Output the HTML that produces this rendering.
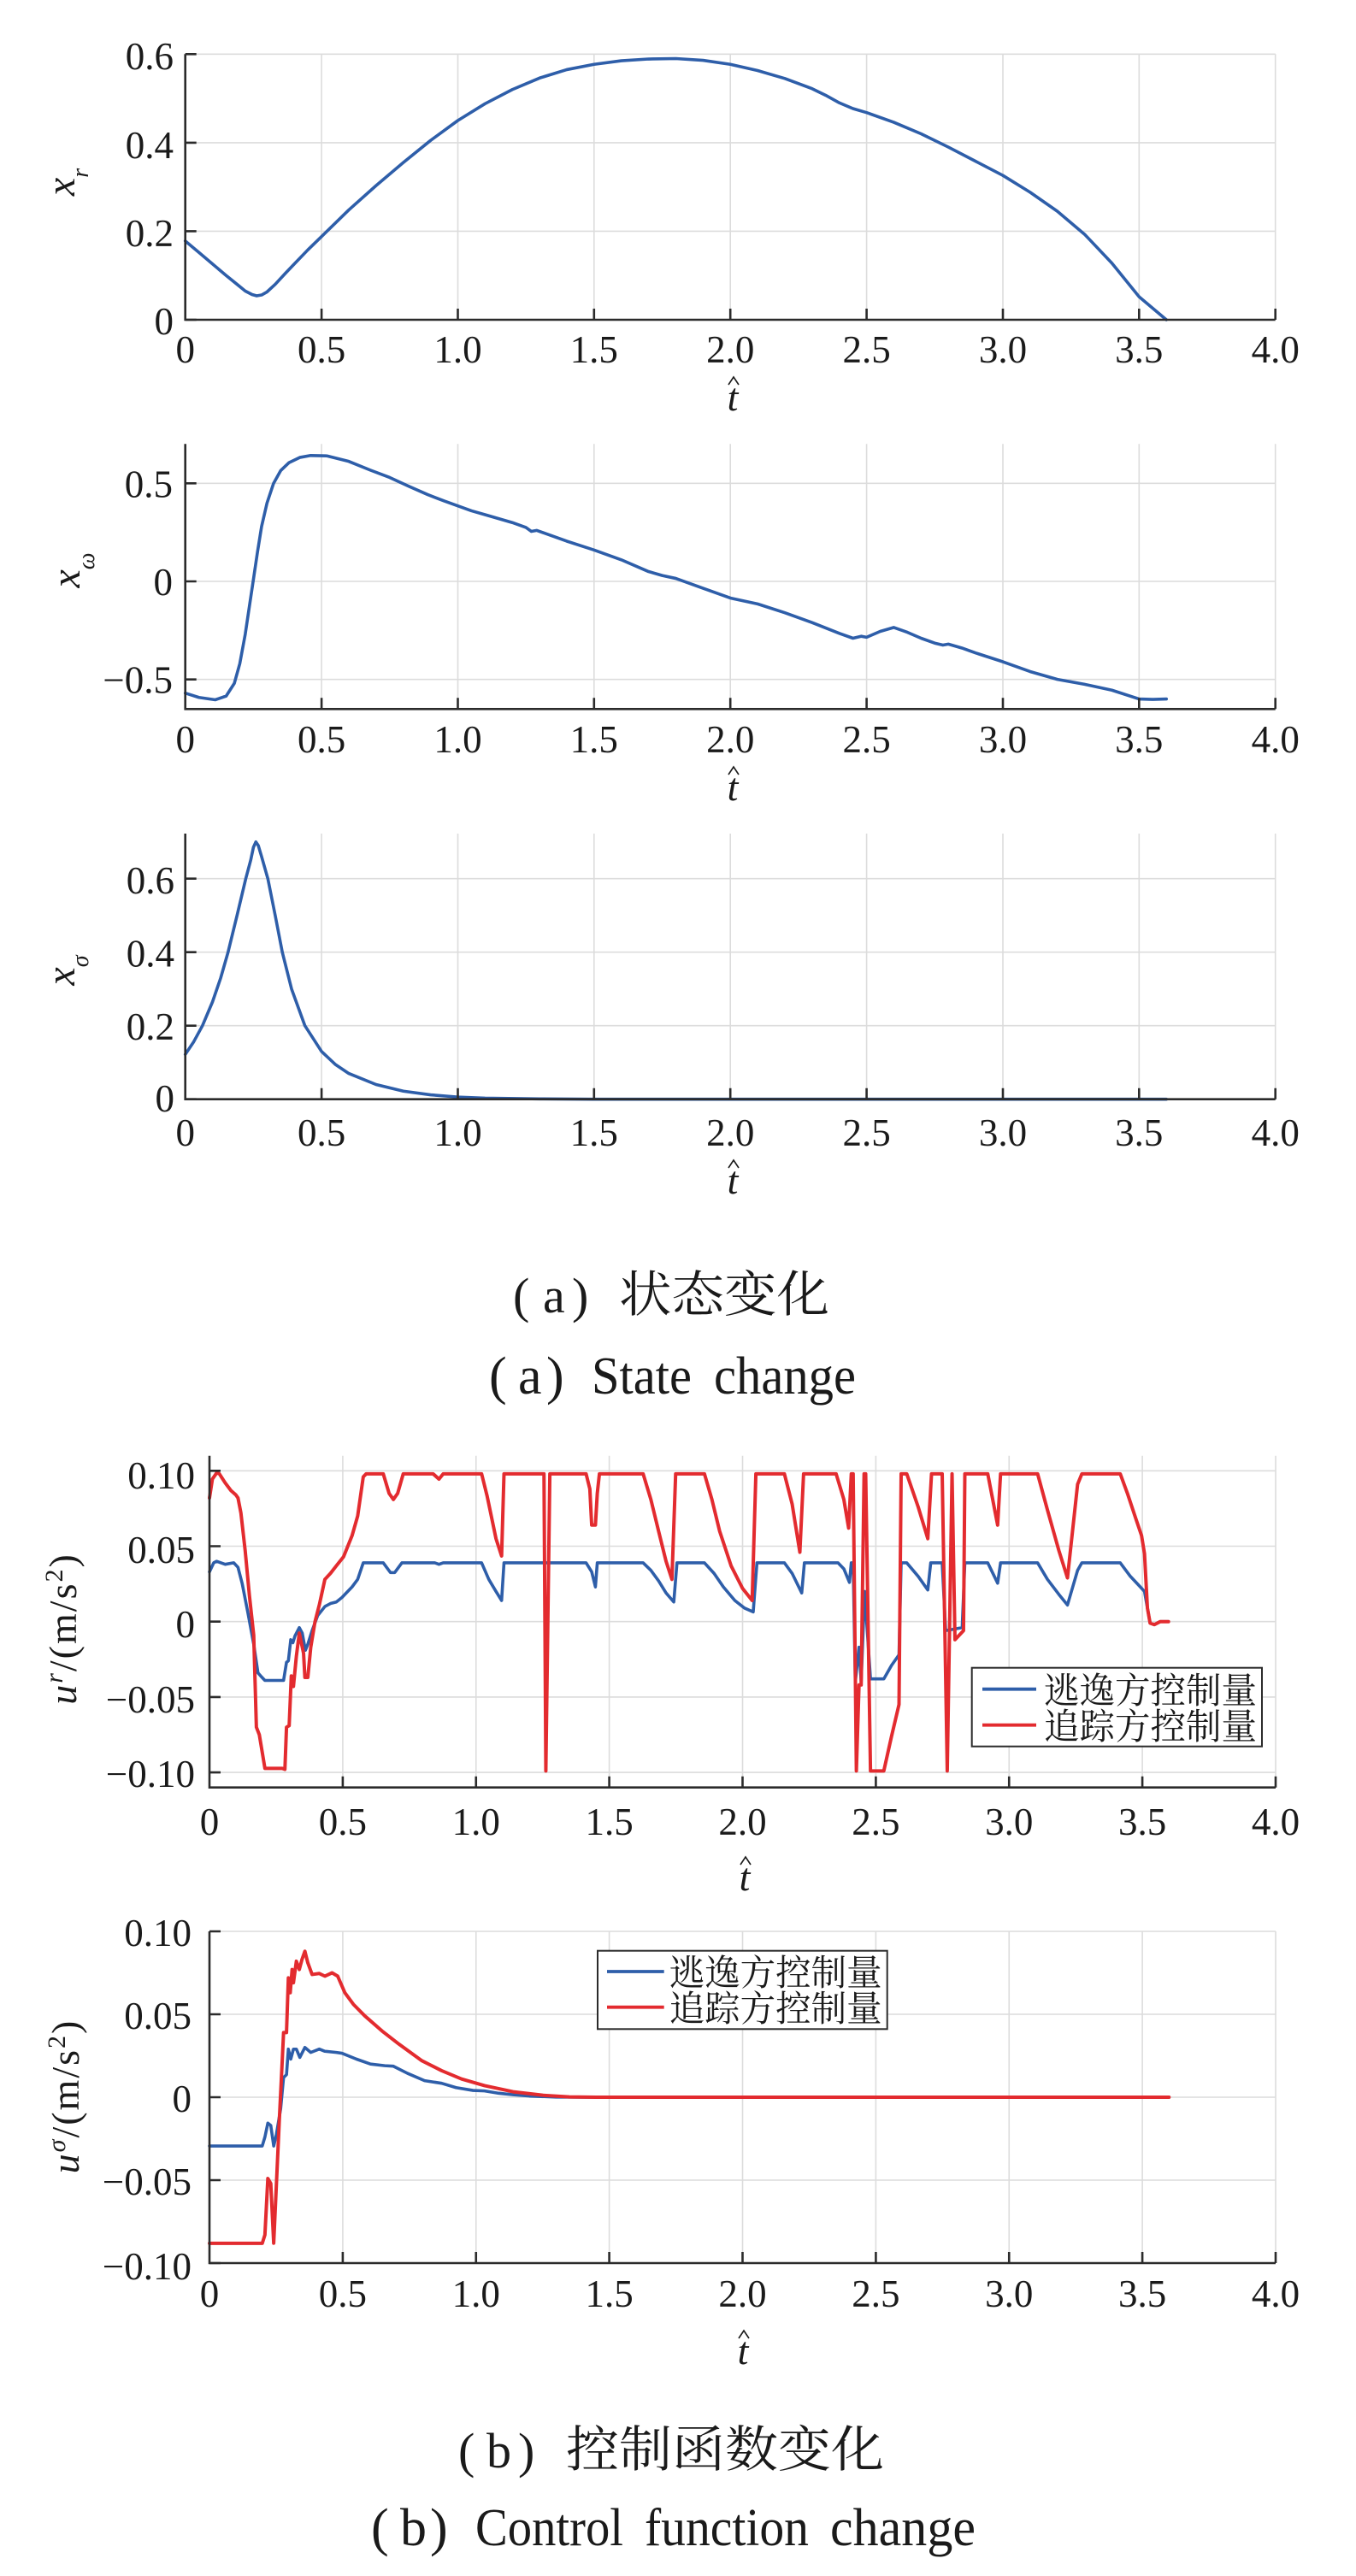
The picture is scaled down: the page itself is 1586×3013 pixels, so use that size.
<!DOCTYPE html>
<html>
<head>
<meta charset="utf-8">
<style>
html,body{margin:0;padding:0;background:#fff;}
svg{display:block;}
.tk{font-family:"Liberation Serif",serif;font-size:45px;fill:#1a1a1a;}
.grid{stroke:#dcdcdc;stroke-width:1.6;fill:none;}
.ax{stroke:#2b2b2b;stroke-width:2.6;fill:none;}
.blue{stroke:#2e5ea9;fill:none;stroke-width:3.6;stroke-linejoin:round;stroke-linecap:round;}
.red{stroke:#e32b2f;fill:none;stroke-width:4;stroke-linejoin:round;stroke-linecap:round;}
.lab{font-family:"Liberation Serif",serif;fill:#1a1a1a;}
.cjk{font-family:"Liberation Serif","Noto Serif CJK SC",serif;fill:#1a1a1a;}
</style>
</head>
<body>
<svg width="1586" height="3013" viewBox="0 0 1586 3013" xmlns="http://www.w3.org/2000/svg">
<rect x="0" y="0" width="1586" height="3013" fill="#fff"/>

<!-- ================= PLOT 1 : x_r ================= -->
<g class="grid">
<path d="M376.1,63.3V374M535.5,63.3V374M694.8,63.3V374M854.2,63.3V374M1013.6,63.3V374M1173,63.3V374M1332.3,63.3V374M1491.7,63.3V374"/>
<path d="M216.7,63.3H1491.7M216.7,166.9H1491.7M216.7,270.4H1491.7"/>
</g>
<g transform="matrix(318.75 0 0 -517.8 216.7 374)">
<polyline class="blue" vector-effect="non-scaling-stroke" points="0,0.178 0.05,0.152 0.1,0.126 0.15,0.1 0.19,0.08 0.22,0.065 0.245,0.057 0.262,0.054 0.28,0.056 0.3,0.063 0.33,0.08 0.366,0.104 0.4,0.126 0.45,0.158 0.5,0.188 0.6,0.248 0.7,0.303 0.8,0.355 0.9,0.405 1.0,0.45 1.1,0.488 1.2,0.52 1.3,0.546 1.4,0.565 1.5,0.577 1.6,0.585 1.7,0.589 1.8,0.59 1.9,0.586 2.0,0.577 2.1,0.563 2.2,0.545 2.3,0.522 2.35,0.507 2.4,0.49 2.45,0.477 2.5,0.468 2.6,0.446 2.7,0.42 2.8,0.39 2.9,0.358 3.0,0.326 3.1,0.288 3.2,0.245 3.3,0.193 3.4,0.128 3.5,0.052 3.6,0"/>
</g>
<path class="ax" d="M216.7,63.3V374H1491.7"/>
<path class="ax" d="M216.7,63.3h13M216.7,166.9h13M216.7,270.4h13M216.7,374h13M376.1,374v-13M535.5,374v-13M694.8,374v-13M854.2,374v-13M1013.6,374v-13M1173,374v-13M1332.3,374v-13M1491.7,374v-13"/>
<g class="tk" text-anchor="end">
<text x="203" y="81">0.6</text><text x="203" y="185">0.4</text><text x="203" y="288">0.2</text><text x="203" y="391">0</text>
</g>
<g class="tk" text-anchor="middle">
<text x="216.7" y="424">0</text><text x="376.1" y="424">0.5</text><text x="535.5" y="424">1.0</text><text x="694.8" y="424">1.5</text><text x="854.2" y="424">2.0</text><text x="1013.6" y="424">2.5</text><text x="1173" y="424">3.0</text><text x="1332.3" y="424">3.5</text><text x="1491.7" y="424">4.0</text>
</g>
<text class="lab" x="857" y="480" font-size="46" font-style="italic" text-anchor="middle">t</text>
<polyline points="852,450 858,441 864,450" fill="none" stroke="#1a1a1a" stroke-width="1.6"/>
<text class="lab" transform="translate(87,213) rotate(-90)" text-anchor="middle" font-size="48" font-style="italic">x<tspan font-size="28" dy="16">r</tspan></text>

<!-- ================= PLOT 2 : x_omega ================= -->
<g class="grid">
<path d="M376.1,519.3V829.3M535.5,519.3V829.3M694.8,519.3V829.3M854.2,519.3V829.3M1013.6,519.3V829.3M1173,519.3V829.3M1332.3,519.3V829.3M1491.7,519.3V829.3"/>
<path d="M216.7,565.35H1491.7M216.7,680H1491.7M216.7,794.65H1491.7"/>
</g>
<g transform="matrix(318.75 0 0 -229.3 216.7 680)">
<polyline class="blue" vector-effect="non-scaling-stroke" points="0,-0.57 0.05,-0.592 0.11,-0.604 0.15,-0.585 0.18,-0.52 0.2,-0.42 0.22,-0.27 0.235,-0.13 0.249,0 0.265,0.15 0.28,0.28 0.3,0.4 0.324,0.5 0.35,0.565 0.38,0.605 0.42,0.632 0.46,0.642 0.52,0.64 0.6,0.612 0.68,0.567 0.75,0.53 0.82,0.485 0.889,0.443 0.95,0.41 1.0,0.385 1.05,0.36 1.1,0.34 1.2,0.3 1.25,0.275 1.27,0.255 1.29,0.26 1.32,0.245 1.4,0.205 1.5,0.16 1.6,0.11 1.7,0.05 1.75,0.03 1.8,0.015 1.9,-0.035 2.0,-0.085 2.1,-0.115 2.2,-0.16 2.3,-0.21 2.4,-0.265 2.45,-0.29 2.48,-0.28 2.5,-0.285 2.55,-0.255 2.6,-0.235 2.65,-0.26 2.7,-0.29 2.75,-0.315 2.78,-0.325 2.8,-0.32 2.85,-0.34 2.9,-0.365 3.0,-0.41 3.1,-0.46 3.2,-0.5 3.3,-0.525 3.4,-0.555 3.5,-0.6 3.55,-0.602 3.6,-0.6"/>
</g>
<path class="ax" d="M216.7,519.3V829.3H1491.7"/>
<path class="ax" d="M216.7,565.35h13M216.7,680h13M216.7,794.65h13M376.1,829.3v-13M535.5,829.3v-13M694.8,829.3v-13M854.2,829.3v-13M1013.6,829.3v-13M1173,829.3v-13M1332.3,829.3v-13M1491.7,829.3v-13"/>
<g class="tk" text-anchor="end">
<text x="202" y="581.5">0.5</text><text x="202" y="696">0</text><text x="202" y="810.7">−0.5</text>
</g>
<g class="tk" text-anchor="middle">
<text x="216.7" y="880">0</text><text x="376.1" y="880">0.5</text><text x="535.5" y="880">1.0</text><text x="694.8" y="880">1.5</text><text x="854.2" y="880">2.0</text><text x="1013.6" y="880">2.5</text><text x="1173" y="880">3.0</text><text x="1332.3" y="880">3.5</text><text x="1491.7" y="880">4.0</text>
</g>
<text class="lab" x="857" y="936" font-size="46" font-style="italic" text-anchor="middle">t</text>
<polyline points="852,906 858,897 864,906" fill="none" stroke="#1a1a1a" stroke-width="1.6"/>
<text class="lab" transform="translate(93,667) rotate(-90)" text-anchor="middle" font-size="48" font-style="italic">x<tspan font-size="28" dy="17">ω</tspan></text>

<!-- ================= PLOT 3 : x_sigma ================= -->
<g class="grid">
<path d="M376.1,975V1285.7M535.5,975V1285.7M694.8,975V1285.7M854.2,975V1285.7M1013.6,975V1285.7M1173,975V1285.7M1332.3,975V1285.7M1491.7,975V1285.7"/>
<path d="M216.7,1027.7H1491.7M216.7,1113.7H1491.7M216.7,1199.7H1491.7"/>
</g>
<g transform="matrix(318.75 0 0 -430 216.7 1285.7)">
<polyline class="blue" vector-effect="non-scaling-stroke" points="0,0.122 0.03,0.155 0.063,0.2 0.1,0.265 0.13,0.33 0.157,0.4 0.19,0.5 0.222,0.6 0.24,0.65 0.25,0.685 0.259,0.7 0.268,0.69 0.28,0.66 0.303,0.6 0.33,0.5 0.356,0.4 0.39,0.3 0.439,0.2 0.5,0.13 0.55,0.095 0.6,0.07 0.7,0.04 0.8,0.022 0.9,0.012 1.0,0.006 1.1,0.003 1.3,0.001 1.5,0 3.6,0"/>
</g>
<path class="ax" d="M216.7,975V1285.7H1491.7"/>
<path class="ax" d="M216.7,1027.7h13M216.7,1113.7h13M216.7,1199.7h13M216.7,1285.7h13M376.1,1285.7v-13M535.5,1285.7v-13M694.8,1285.7v-13M854.2,1285.7v-13M1013.6,1285.7v-13M1173,1285.7v-13M1332.3,1285.7v-13M1491.7,1285.7v-13"/>
<g class="tk" text-anchor="end">
<text x="204" y="1045">0.6</text><text x="204" y="1130.5">0.4</text><text x="204" y="1216">0.2</text><text x="204" y="1300">0</text>
</g>
<g class="tk" text-anchor="middle">
<text x="216.7" y="1340">0</text><text x="376.1" y="1340">0.5</text><text x="535.5" y="1340">1.0</text><text x="694.8" y="1340">1.5</text><text x="854.2" y="1340">2.0</text><text x="1013.6" y="1340">2.5</text><text x="1173" y="1340">3.0</text><text x="1332.3" y="1340">3.5</text><text x="1491.7" y="1340">4.0</text>
</g>
<text class="lab" x="857" y="1396" font-size="46" font-style="italic" text-anchor="middle">t</text>
<polyline points="852,1366 858,1357 864,1366" fill="none" stroke="#1a1a1a" stroke-width="1.6"/>
<text class="lab" transform="translate(87,1135) rotate(-90)" text-anchor="middle" font-size="48" font-style="italic">x<tspan font-size="28" dy="16">σ</tspan></text>

<!-- ================= CAPTION A ================= -->
<g class="lab" font-size="58">
<text x="600" y="1535">(</text><text x="635" y="1535">a</text><text x="669" y="1535">)</text>
</g>
<text class="cjk" x="724" y="1534" font-size="58" textLength="246" lengthAdjust="spacingAndGlyphs">状态变化</text>
<g class="lab" font-size="62">
<text x="572" y="1630">(</text><text x="606" y="1630">a</text><text x="639" y="1630">)</text>
<text x="692" y="1630" textLength="117" lengthAdjust="spacingAndGlyphs">State</text>
<text x="835" y="1630" textLength="166" lengthAdjust="spacingAndGlyphs">change</text>
</g>

<!-- ================= PLOT 4 : u^r ================= -->
<g class="grid">
<path d="M400.9,1702.7V2090.7M556.75,1702.7V2090.7M712.6,1702.7V2090.7M868.5,1702.7V2090.7M1024.4,1702.7V2090.7M1180.25,1702.7V2090.7M1336.1,1702.7V2090.7M1492,1702.7V2090.7"/>
<path d="M245,1720.3H1492M245,1808.5H1492M245,1896.7H1492M245,1984.9H1492M245,2073.1H1492"/>
</g>
<g transform="matrix(311.75 0 0 -1764 245 1896.7)">
<polyline class="blue" vector-effect="non-scaling-stroke" points="0,0.033 0.016,0.039 0.027,0.04 0.059,0.038 0.091,0.039 0.107,0.036 0.123,0.025 0.144,0.006 0.166,-0.015 0.182,-0.034 0.192,-0.036 0.208,-0.039 0.278,-0.039 0.289,-0.027 0.296,-0.026 0.305,-0.012 0.313,-0.014 0.321,-0.0094 0.337,-0.004 0.348,-0.0076 0.36,-0.019 0.369,-0.015 0.385,-0.006 0.406,0.004 0.433,0.01 0.454,0.012 0.476,0.013 0.497,0.016 0.535,0.023 0.556,0.028 0.577,0.039 0.652,0.039 0.679,0.0325 0.695,0.0325 0.722,0.039 0.845,0.039 0.861,0.038 0.877,0.039 1.021,0.039 1.048,0.028 1.075,0.02 1.096,0.014 1.105,0.039 1.413,0.039 1.434,0.033 1.448,0.023 1.455,0.039 1.627,0.039 1.656,0.034 1.685,0.027 1.713,0.019 1.742,0.013 1.754,0.039 1.857,0.039 1.893,0.032 1.928,0.023 1.971,0.014 2.007,0.009 2.04,0.0064 2.054,0.039 2.157,0.039 2.186,0.032 2.222,0.019 2.232,0.039 2.358,0.039 2.38,0.035 2.401,0.026 2.408,0.039 2.415,0.039 2.423,-0.04 2.437,-0.017 2.445,-0.04 2.458,0.02 2.48,-0.038 2.53,-0.038 2.559,-0.029 2.587,-0.022 2.595,0.039 2.616,0.039 2.659,0.03 2.695,0.021 2.706,0.039 2.749,0.039 2.762,-0.006 2.824,-0.004 2.834,0.039 2.92,0.039 2.957,0.0255 2.968,0.039 3.107,0.039 3.144,0.028 3.187,0.018 3.219,0.011 3.257,0.034 3.273,0.039 3.417,0.039 3.455,0.03 3.487,0.024 3.508,0.02 3.519,0.009 3.529,-0.001 3.545,-0.002 3.567,0 3.598,0"/>
<polyline class="red" vector-effect="non-scaling-stroke" points="0,0.082 0.011,0.0945 0.027,0.0986 0.037,0.098 0.059,0.092 0.08,0.087 0.099,0.084 0.107,0.082 0.118,0.072 0.134,0.047 0.15,0.017 0.166,-0.009 0.176,-0.07 0.187,-0.075 0.208,-0.0973 0.273,-0.0973 0.283,-0.098 0.289,-0.07 0.299,-0.069 0.307,-0.036 0.315,-0.043 0.326,-0.023 0.337,-0.0076 0.353,-0.021 0.358,-0.037 0.369,-0.037 0.38,-0.017 0.396,0 0.412,0.011 0.433,0.028 0.454,0.032 0.476,0.037 0.503,0.043 0.535,0.057 0.556,0.07 0.577,0.096 0.588,0.098 0.652,0.098 0.674,0.085 0.69,0.081 0.706,0.085 0.727,0.098 0.839,0.098 0.861,0.0945 0.877,0.098 1.021,0.098 1.042,0.083 1.075,0.055 1.096,0.0435 1.105,0.098 1.255,0.098 1.262,-0.099 1.277,0.098 1.413,0.098 1.427,0.088 1.434,0.064 1.448,0.064 1.455,0.085 1.463,0.098 1.627,0.098 1.656,0.081 1.685,0.06 1.713,0.04 1.735,0.028 1.749,0.098 1.857,0.098 1.885,0.081 1.914,0.06 1.957,0.037 2.0,0.022 2.036,0.014 2.05,0.098 2.157,0.098 2.186,0.078 2.215,0.046 2.229,0.098 2.351,0.098 2.38,0.081 2.398,0.062 2.408,0.098 2.415,0.098 2.427,-0.099 2.437,-0.042 2.445,-0.042 2.456,0.098 2.462,0.098 2.48,-0.099 2.53,-0.099 2.559,-0.076 2.587,-0.055 2.595,0.098 2.616,0.098 2.659,0.076 2.695,0.055 2.709,0.098 2.749,0.098 2.768,-0.099 2.786,0.098 2.797,-0.012 2.829,-0.006 2.834,0.098 2.92,0.098 2.957,0.064 2.968,0.098 3.107,0.098 3.144,0.074 3.187,0.047 3.219,0.029 3.257,0.091 3.273,0.098 3.417,0.098 3.444,0.085 3.476,0.068 3.497,0.057 3.508,0.045 3.519,0.009 3.529,-0.001 3.545,-0.002 3.567,0 3.598,0"/>
</g>
<path class="ax" d="M245,1702.7V2090.7H1492"/>
<path class="ax" d="M245,1720.3h13M245,1808.5h13M245,1896.7h13M245,1984.9h13M245,2073.1h13M400.9,2090.7v-13M556.75,2090.7v-13M712.6,2090.7v-13M868.5,2090.7v-13M1024.4,2090.7v-13M1180.25,2090.7v-13M1336.1,2090.7v-13M1492,2090.7v-13"/>
<g class="tk" text-anchor="end">
<text x="228" y="1741">0.10</text><text x="228" y="1828">0.05</text><text x="228" y="1915">0</text><text x="228" y="2003">−0.05</text><text x="228" y="2090">−0.10</text>
</g>
<g class="tk" text-anchor="middle">
<text x="245" y="2146">0</text><text x="400.9" y="2146">0.5</text><text x="556.75" y="2146">1.0</text><text x="712.6" y="2146">1.5</text><text x="868.5" y="2146">2.0</text><text x="1024.4" y="2146">2.5</text><text x="1180.25" y="2146">3.0</text><text x="1336.1" y="2146">3.5</text><text x="1492" y="2146">4.0</text>
</g>
<text class="lab" x="871" y="2211" font-size="46" font-style="italic" text-anchor="middle">t</text>
<polyline points="866,2181 872,2172 878,2181" fill="none" stroke="#1a1a1a" stroke-width="1.6"/>
<text class="lab" transform="translate(89,1905) rotate(-90)" text-anchor="middle" font-size="46" letter-spacing="2"><tspan font-style="italic">u</tspan><tspan font-style="italic" font-size="30" dy="-16">r</tspan><tspan dy="16">/(m/s</tspan><tspan font-size="30" dy="-16">2</tspan><tspan dy="16">)</tspan></text>
<!-- legend 4 -->
<rect x="1136.7" y="1950.7" width="339.3" height="92" fill="#fff" stroke="#2b2b2b" stroke-width="2"/>
<path d="M1149,1975.7H1212" stroke="#2e5ea9" stroke-width="3.8"/>
<path d="M1149,2017.7H1212" stroke="#e32b2f" stroke-width="3.8"/>
<text class="cjk" x="1221" y="1992" font-size="42" textLength="249" lengthAdjust="spacingAndGlyphs">逃逸方控制量</text>
<text class="cjk" x="1221" y="2034" font-size="42" textLength="249" lengthAdjust="spacingAndGlyphs">追踪方控制量</text>

<!-- ================= PLOT 5 : u^sigma ================= -->
<g class="grid">
<path d="M400.9,2259V2647M556.75,2259V2647M712.6,2259V2647M868.5,2259V2647M1024.4,2259V2647M1180.25,2259V2647M1336.1,2259V2647M1492,2259V2647"/>
<path d="M245,2259H1492M245,2356H1492M245,2453H1492M245,2550H1492"/>
</g>
<g transform="matrix(311.75 0 0 -1940 245 2453)">
<polyline class="blue" vector-effect="non-scaling-stroke" points="0,-0.0294 0.198,-0.0294 0.208,-0.024 0.219,-0.0156 0.23,-0.017 0.241,-0.0294 0.251,-0.0225 0.267,-0.007 0.278,0.0119 0.289,0.0136 0.296,0.029 0.305,0.023 0.315,0.029 0.326,0.029 0.339,0.024 0.358,0.03 0.38,0.027 0.412,0.029 0.433,0.0277 0.476,0.027 0.497,0.0265 0.551,0.023 0.604,0.02 0.658,0.019 0.69,0.0187 0.743,0.0144 0.807,0.01 0.871,0.0084 0.925,0.0058 0.989,0.0041 1.032,0.0038 1.085,0.0024 1.139,0.0015 1.2,0.0007 1.3,0.0001 1.4,0 3.6,0"/>
<polyline class="red" vector-effect="non-scaling-stroke" points="0,-0.0881 0.198,-0.0881 0.208,-0.083 0.219,-0.049 0.23,-0.052 0.241,-0.088 0.251,-0.053 0.262,-0.014 0.273,0.022 0.278,0.039 0.289,0.039 0.296,0.072 0.303,0.063 0.31,0.077 0.315,0.069 0.326,0.082 0.337,0.077 0.347,0.083 0.358,0.088 0.369,0.081 0.385,0.074 0.412,0.0746 0.433,0.073 0.46,0.075 0.481,0.073 0.508,0.063 0.54,0.056 0.583,0.049 0.647,0.04 0.711,0.032 0.797,0.022 0.871,0.016 0.946,0.011 1.032,0.007 1.139,0.0033 1.25,0.0012 1.35,0.0002 1.45,0 3.6,0"/>
</g>
<path class="ax" d="M245,2259V2647H1492"/>
<path class="ax" d="M245,2259h13M245,2356h13M245,2453h13M245,2550h13M245,2647h13M400.9,2647v-13M556.75,2647v-13M712.6,2647v-13M868.5,2647v-13M1024.4,2647v-13M1180.25,2647v-13M1336.1,2647v-13M1492,2647v-13"/>
<g class="tk" text-anchor="end">
<text x="224" y="2276">0.10</text><text x="224" y="2373">0.05</text><text x="224" y="2470">0</text><text x="224" y="2567">−0.05</text><text x="224" y="2666">−0.10</text>
</g>
<g class="tk" text-anchor="middle">
<text x="245" y="2698">0</text><text x="400.9" y="2698">0.5</text><text x="556.75" y="2698">1.0</text><text x="712.6" y="2698">1.5</text><text x="868.5" y="2698">2.0</text><text x="1024.4" y="2698">2.5</text><text x="1180.25" y="2698">3.0</text><text x="1336.1" y="2698">3.5</text><text x="1492" y="2698">4.0</text>
</g>
<text class="lab" x="869" y="2765" font-size="46" font-style="italic" text-anchor="middle">t</text>
<polyline points="864,2735 870,2726 876,2735" fill="none" stroke="#1a1a1a" stroke-width="1.6"/>
<text class="lab" transform="translate(92,2452) rotate(-90)" text-anchor="middle" font-size="46" letter-spacing="2"><tspan font-style="italic">u</tspan><tspan font-style="italic" font-size="30" dy="-16">σ</tspan><tspan dy="16">/(m/s</tspan><tspan font-size="30" dy="-16">2</tspan><tspan dy="16">)</tspan></text>
<!-- legend 5 -->
<rect x="699" y="2281.7" width="338.7" height="91.6" fill="#fff" stroke="#2b2b2b" stroke-width="2"/>
<path d="M710,2306H776.7" stroke="#2e5ea9" stroke-width="3.8"/>
<path d="M710,2347.7H776.7" stroke="#e32b2f" stroke-width="3.8"/>
<text class="cjk" x="782.7" y="2322" font-size="42" textLength="249" lengthAdjust="spacingAndGlyphs">逃逸方控制量</text>
<text class="cjk" x="782.7" y="2364" font-size="42" textLength="249" lengthAdjust="spacingAndGlyphs">追踪方控制量</text>

<!-- ================= CAPTION B ================= -->
<g class="lab" font-size="58">
<text x="536" y="2886">(</text><text x="569" y="2886">b</text><text x="606" y="2886">)</text>
</g>
<text class="cjk" x="662" y="2885" font-size="58" textLength="372" lengthAdjust="spacingAndGlyphs">控制函数变化</text>
<g class="lab" font-size="62">
<text x="434" y="2977">(</text><text x="468" y="2977">b</text><text x="503" y="2977">)</text>
<text x="556" y="2977" textLength="173" lengthAdjust="spacingAndGlyphs">Control</text>
<text x="754" y="2977" textLength="192" lengthAdjust="spacingAndGlyphs">function</text>
<text x="971" y="2977" textLength="170" lengthAdjust="spacingAndGlyphs">change</text>
</g>
</svg>
</body>
</html>
